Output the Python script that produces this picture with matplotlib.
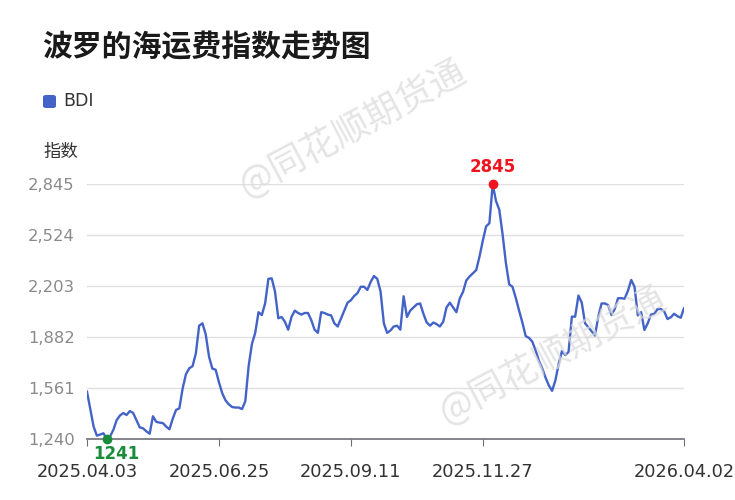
import matplotlib
matplotlib.use("Agg")
import matplotlib.pyplot as plt
import numpy as np
from matplotlib.patches import FancyBboxPatch

plt.rcParams['font.family'] = ['Noto Sans CJK SC', 'DejaVu Sans']

title = "波罗的海运费指数走势图"
series_name = "BDI"
y_label = "指数"
watermark = "@同花顺期货通"

bdi = [
    1540, 1430, 1320, 1263, 1270, 1278, 1241, 1258, 1300, 1361,
    1390, 1405, 1393, 1418, 1405, 1360, 1315, 1309, 1290, 1275,
    1385, 1350, 1345, 1342, 1320, 1303, 1370, 1425, 1435, 1560,
    1650, 1687, 1700, 1780, 1955, 1970, 1900, 1760, 1685, 1678,
    1600, 1530, 1485, 1460, 1443, 1440, 1440, 1430, 1480, 1700,
    1840, 1910, 2040, 2022, 2095, 2250, 2253, 2170, 2002, 2010,
    1980, 1930, 2010, 2050, 2035, 2025, 2035, 2035, 1990, 1930,
    1910, 2040, 2035, 2025, 2020, 1970, 1950, 2000, 2050, 2100,
    2115, 2142, 2160, 2200, 2200, 2180, 2230, 2268, 2250, 2170,
    1970, 1910, 1925, 1950, 1955, 1930, 2140, 2010, 2050, 2070,
    2090, 2095, 2030, 1975, 1955, 1975, 1965, 1950, 1980, 2070,
    2100, 2070, 2040, 2125, 2168, 2240, 2265, 2285, 2305, 2390,
    2490, 2580, 2600, 2845, 2740, 2685, 2530, 2350, 2215, 2200,
    2130, 2050, 1975, 1890, 1878, 1855, 1800, 1735, 1688, 1630,
    1580, 1545, 1610, 1715, 1795, 1770, 1790, 2012, 2012, 2145,
    2100, 1970, 1945, 1920, 1893, 2010, 2095, 2095, 2085, 2022,
    2060, 2128, 2128, 2125, 2175, 2243, 2200, 2020, 2040, 1928,
    1970, 2025, 2030, 2060, 2060, 2045, 1997, 2008, 2030, 2015,
    2005, 2065,
]
tick_labels = ["2025.04.03", "2025.06.25", "2025.09.11", "2025.11.27", "2026.04.02"]
tick_idx = [0, 40, 80, 120, len(bdi) - 1]
y_ticks = [1240, 1561, 1882, 2203, 2524, 2845]

line_color = "#4463c8"
fig = plt.figure(figsize=(7.35, 5.0), dpi=100)
ax = fig.add_axes([87/735, 1 - 439.3/500, (684-87)/735, (439.3-184.3)/500])

x = np.arange(len(bdi))
ax.plot(x, bdi, color=line_color, lw=1.7, solid_joinstyle='round', zorder=3)

ax.set_xlim(0, len(bdi) - 1)
ax.set_ylim(y_ticks[0], y_ticks[-1])
ax.set_yticks(y_ticks)
ax.set_yticklabels([f"{v:,}" for v in y_ticks], color="#8a8a8a", fontsize=11.8,
                   family=['DejaVu Sans'])
ax.set_xticks(tick_idx)
ax.set_xticklabels(tick_labels, color="#333333", fontsize=12.8, family=['DejaVu Sans'])
ax.tick_params(axis='y', length=0, pad=9)
ax.tick_params(axis='x', length=5, color="#6e7079", pad=12)
ax.grid(axis='y', color="#e0e0e0", lw=1)
ax.set_axisbelow(True)
for s in ['top', 'right', 'left']:
    ax.spines[s].set_visible(False)
ax.spines['bottom'].set_color("#6e7079")
ax.spines['bottom'].set_linewidth(1.2)

# max / min annotations
imax = int(np.argmax(bdi))
imin = int(np.argmin(bdi))
ax.plot([imax], [bdi[imax]], 'o', color="#f0141e", ms=6, zorder=5, clip_on=False)
ax.annotate(f"{bdi[imax]}", (imax, bdi[imax]), xytext=(0, 6), textcoords='offset points',
            ha='center', va='bottom', color="#f0141e", fontsize=12, fontweight='bold',
            family=['DejaVu Sans'], annotation_clip=False)
ax.plot([imin], [bdi[imin]], 'o', color="#1a8c3c", ms=6, zorder=5, clip_on=False)
ax.annotate(f"{bdi[imin]}", (imin, bdi[imin]), xytext=(7, -4), textcoords='offset points',
            ha='center', va='top', color="#1a8c3c", fontsize=12, fontweight='bold',
            family=['DejaVu Sans'], annotation_clip=False)

# title, legend, y label
fig.text(42/735, 1 - 47/500, title, fontsize=21.5, fontweight='bold', color="#1a1a1a",
         ha='left', va='center')
fig.patches.append(FancyBboxPatch((43/735, 1 - 108/500), 13/735, 13/500,
                                  boxstyle="round,pad=0,rounding_size=0.004",
                                  transform=fig.transFigure, facecolor=line_color,
                                  edgecolor='none'))
fig.text(63/735, 1 - 101/500, series_name, fontsize=12.5, color="#333333",
         ha='left', va='center', family=['DejaVu Sans'])
fig.text(43/735, 1 - 152/500, y_label, fontsize=12.5, color="#333333",
         ha='left', va='center')

# watermarks
for cx, cy in [(352, 128), (552, 355)]:
    fig.text(cx/735, 1 - cy/500, watermark, fontsize=26, color="#dcdcdc", alpha=0.75,
             rotation=28, ha='center', va='center', zorder=0)

fig.savefig("out.png", dpi=100)
